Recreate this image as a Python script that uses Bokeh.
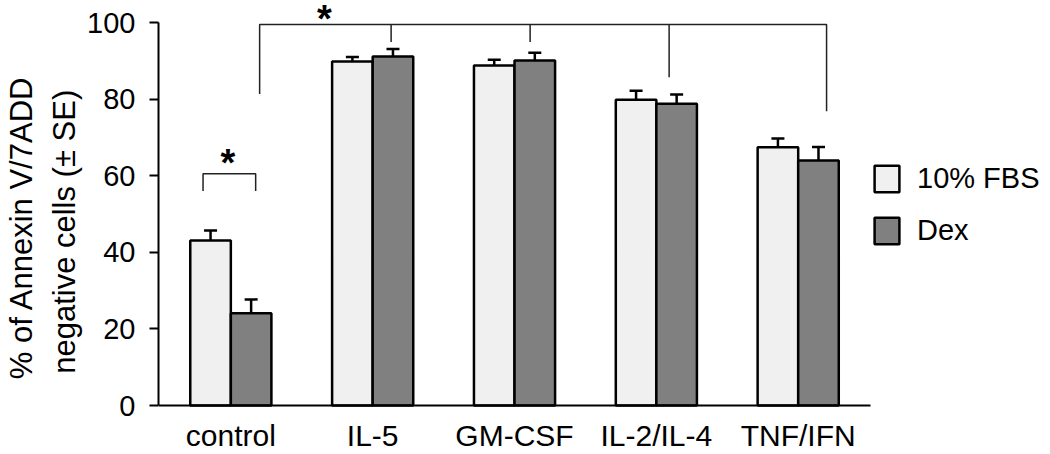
from bokeh.plotting import figure
from bokeh.models import (Range1d, FixedTicker, Legend, LegendItem, Whisker,
                          ColumnDataSource, Label, TeeHead, LinearAxis)
from bokeh.embed import file_html
from bokeh.resources import INLINE

# ---------------- data ----------------
categories = ["control", "IL-5", "GM-CSF", "IL-2/IL-4", "TNF/IFN"]
series = ["10% FBS", "Dex"]
fbs = [43.1, 89.8, 88.8, 79.8, 67.4]
fbs_se = [2.6, 1.2, 1.5, 2.4, 2.3]
dex = [24.1, 91.1, 90.1, 78.8, 64.0]
dex_se = [3.6, 2.0, 2.0, 2.4, 3.5]
y_ticks = [0, 20, 40, 60, 80, 100]
y_title = ["% of Annexin V/7ADD", "negative cells  (\u00b1 SE)"]

# ---------------- style ----------------
FONT = "Liberation Sans"
W, H = 1050, 454
LEFT = 157
X0, XB = -0.51, 4.51          # axis extent (bounds)
PX_X = 142.0
X1 = X0 + (W - LEFT) / PX_X
PX_Y = 3.83
Y_TOP = 100 + 22 / PX_Y
Y_BOT = -(H - 22 - 100 * PX_Y) / PX_Y
BAR_W = 0.286
FBS_COLOR = "#f0f0f0"
DEX_COLOR = "#808080"

p = figure(width=W, height=H, output_backend="svg", toolbar_location=None,
           x_range=Range1d(X0, X1), y_range=Range1d(Y_BOT, Y_TOP),
           min_border_left=LEFT, min_border_right=0,
           min_border_top=0, min_border_bottom=0)
p.outline_line_color = None
p.grid.visible = False
p.background_fill_color = "white"
p.border_fill_color = "white"

idx = list(range(len(categories)))
x_fbs = [i - BAR_W / 2 for i in idx]
x_dex = [i + BAR_W / 2 for i in idx]

r_fbs = p.vbar(x=x_fbs, top=fbs, width=BAR_W, bottom=0, fill_color=FBS_COLOR,
               line_color="black", line_width=2.5)
r_dex = p.vbar(x=x_dex, top=dex, width=BAR_W, bottom=0, fill_color=DEX_COLOR,
               line_color="black", line_width=2.5)

# error bars (upper only)
for xs, vals, ses in ((x_fbs, fbs, fbs_se), (x_dex, dex, dex_se)):
    src = ColumnDataSource(dict(x=xs, lower=vals, upper=[v + s for v, s in zip(vals, ses)]))
    w = Whisker(base="x", lower="lower", upper="upper", source=src, dimension="height",
                line_color="black", line_width=2.5,
                upper_head=TeeHead(size=13, line_color="black", line_width=2.5),
                lower_head=None)
    p.add_layout(w)

# significance brackets
BR_COLOR = "#222222"
BR_W = 1.5
p.line(x=[-0.196, -0.196, 0.175, 0.175], y=[56.0, 60.5, 60.5, 56.0],
       line_color=BR_COLOR, line_width=BR_W)
p.line(x=[0.203, 0.203, 4.2, 4.2], y=[81.3, 99.5, 99.5, 76.8],
       line_color=BR_COLOR, line_width=BR_W)
for bx, by in ((1.13, 94.9), (2.11, 94.9), (3.09, 85.7)):
    p.line(x=[bx, bx], y=[99.5, by], line_color=BR_COLOR, line_width=BR_W)

# stars
for sx, sy in ((-0.02, 63.2), (0.66, 100.8)):
    p.add_layout(Label(x=sx, y=sy, text="*", text_font=FONT,
                       text_font_size="38px", text_font_style="bold",
                       text_align="center", text_baseline="alphabetic",
                       text_color="black"))

# y axis (inner: ticks + second title line)
yax = p.yaxis[0]
yax.bounds = (0, 100)
yax.ticker = FixedTicker(ticks=y_ticks)
yax.minor_tick_line_color = None
yax.major_tick_in = 0
yax.major_tick_out = 9
yax.major_tick_line_width = 2
yax.axis_line_width = 2
yax.axis_line_color = "black"
yax.major_tick_line_color = "black"
yax.major_label_text_font = FONT
yax.major_label_text_font_size = "29px"
yax.major_label_text_color = "black"
yax.major_label_standoff = 14
yax.axis_label = y_title[1]
yax.axis_label_standoff = 2
yax.axis_label_text_font = FONT
yax.axis_label_text_font_size = "31px"
yax.axis_label_text_font_style = "normal"
yax.axis_label_text_color = "black"
yax.axis_label_text_line_height = 1.0

# outer axis carrying only the first title line
outer = LinearAxis(ticker=FixedTicker(ticks=[]),
                   axis_line_color=None, major_tick_line_color=None,
                   minor_tick_line_color=None, major_tick_out=0, major_tick_in=0,
                   axis_label=y_title[0], axis_label_standoff=6,
                   axis_label_text_font=FONT, axis_label_text_font_size="31px",
                   axis_label_text_font_style="normal", axis_label_text_color="black",
                   axis_label_text_line_height=1.0)
p.add_layout(outer, "left")

# x axis drawn at y = 0 inside the frame
xax = p.xaxis[0]
xax.fixed_location = 0
xax.bounds = (X0, XB)
xax.ticker = FixedTicker(ticks=idx)
xax.major_label_overrides = {i: c for i, c in zip(idx, categories)}
xax.minor_tick_line_color = None
xax.major_tick_line_color = None
xax.major_tick_in = 0
xax.major_tick_out = 0
xax.axis_line_width = 2
xax.axis_line_color = "black"
xax.major_label_text_font = FONT
xax.major_label_text_font_size = "30px"
xax.major_label_text_color = "black"
xax.major_label_standoff = 13

# legend (inside the wide frame, right of the axis extent)
legend = Legend(items=[LegendItem(label=series[0], renderers=[r_fbs]),
                       LegendItem(label=series[1], renderers=[r_dex])],
                location=(713, 207), orientation="vertical",
                glyph_width=31, glyph_height=33, label_height=33,
                label_standoff=15, spacing=19, padding=2, margin=0,
                border_line_color=None, background_fill_alpha=0,
                label_text_font=FONT, label_text_font_size="29px",
                label_text_color="black")
p.add_layout(legend)

open("out.html", "w").write(file_html(p, INLINE))
